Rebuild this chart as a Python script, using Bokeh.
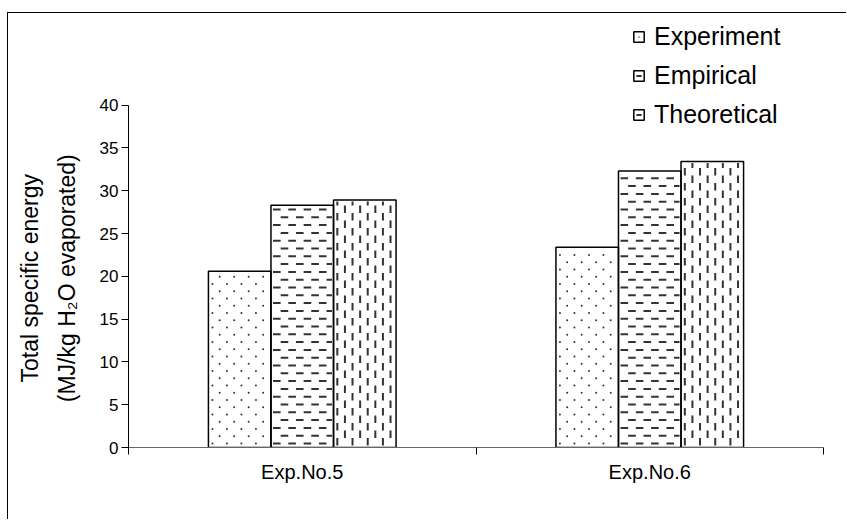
import math
from bokeh.plotting import figure
from bokeh.models import (ColumnDataSource, Range1d, FixedTicker, SingleIntervalTicker,
                          Legend, LegendItem)
from bokeh.embed import file_html
from bokeh.resources import INLINE

# Data
categories = ["Exp.No.5", "Exp.No.6"]
series = ["Experiment", "Empirical", "Theoretical"]
experiment = [20.6, 23.4]
empirical = [28.3, 32.3]
theoretical = [28.9, 33.4]

FONT = "Liberation Sans"
INK = "#333333"

W, H = 839, 507
BL, BR, BT, BB = 120, 24, 6, 73
Y_END = 50
X_END = len(categories)

p = figure(width=W, height=H, margin=(12, 0, 0, 7),
           styles={"border-top": "1.5px solid black", "border-left": "1.5px solid black"},
           x_range=Range1d(0, X_END), y_range=Range1d(0, Y_END),
           output_backend="svg", toolbar_location=None,
           min_border_left=BL, min_border_right=BR, min_border_top=BT, min_border_bottom=BB)
p.outline_line_color = None
p.xgrid.visible = False
p.ygrid.visible = False
p.background_fill_color = "white"
p.border_fill_color = "white"

# pixels per data unit inside the frame, used to size the fill patterns
PX_X = (W - BL - BR) / X_END
PX_Y = (H - BT - BB) / Y_END

centers = [i + 0.5 for i in range(len(categories))]
bar_w = 0.18
offsets = [-bar_w, 0.0, bar_w]
values = [experiment, empirical, theoretical]


def dot_pattern(left, right, top):
    w, h = (right - left) * PX_X, top * PX_Y
    xs, ys = [], []
    r, y = 0, 4.0
    while y < h - 2:
        x = 4.0 + (r % 2) * 7.25
        while x < w - 2:
            xs.append(left + x / PX_X)
            ys.append(y / PX_Y)
            x += 14.5
        r += 1
        y += 7.25
    return xs, ys


def dash_runs(extent, start, period, length, lo, hi_pad):
    """Dash intervals along one line of a pattern, clipped to [lo, extent - hi_pad]."""
    runs = []
    t = start - period
    while t < extent:
        a, b = max(t, lo), min(t + length, extent - hi_pad)
        if b - a > 1.5:
            runs.append((a, b, (b - a) >= length - 0.01))
        t += period
    return runs


def hdash_pattern(left, right, top):
    w, h = (right - left) * PX_X, top * PX_Y
    period, length, gap = 15.3, 7.7, 7.8
    full, part = ([], []), ([], [], [])
    r, y = 0, 4.0
    while y < h - 2:
        for a, b, whole in dash_runs(w, 2.0 + (r % 2) * period / 2, period, length, 1.5, 1.5):
            if whole:
                full[0].append(left + (a + b) / 2 / PX_X)
                full[1].append(y / PX_Y)
            else:
                part[0].append(left + a / PX_X)
                part[1].append(left + b / PX_X)
                part[2].append(y / PX_Y)
        r += 1
        y += gap
    return full, (part[0], part[2], part[1], part[2])


def vdash_pattern(left, right, top):
    w, h = (right - left) * PX_X, top * PX_Y
    period, length, gap = 15.0, 7.5, 7.6
    full, part = ([], []), ([], [], [])
    c, x = 0, 3.8
    while x < w - 1.5:
        for a, b, whole in dash_runs(h, 2.0 + (c % 2) * period / 2, period, length, 1.0, 1.5):
            if whole:
                full[0].append(left + x / PX_X)
                full[1].append((a + b) / 2 / PX_Y)
            else:
                part[0].append(left + x / PX_X)
                part[1].append(a / PX_Y)
                part[2].append(b / PX_Y)
        c += 1
        x += gap
    return full, (part[0], part[1], part[0], part[2])


bar_sides = []
for k in range(len(series)):
    xs = [c + offsets[k] for c in centers]
    p.vbar(x=xs, top=values[k], width=bar_w, bottom=0, fill_color="white", line_color=None)
    bar_sides.append([(x - bar_w / 2, x + bar_w / 2, t) for x, t in zip(xs, values[k])])

# fill patterns
dx, dy = [], []
for left, right, top in bar_sides[0]:
    a, b = dot_pattern(left, right, top)
    dx += a
    dy += b
dots = p.scatter(dx, dy, marker="dot", size=8, fill_color=INK, line_color=INK, line_width=0.5)

marks = [dots]
for k, fn, ang in ((1, hdash_pattern, 0.0), (2, vdash_pattern, math.pi / 2)):
    fx, fy, s0, s1, s2, s3 = [], [], [], [], [], []
    for left, right, top in bar_sides[k]:
        (a, b), (c, d, e, f) = fn(left, right, top)
        fx += a
        fy += b
        s0 += c
        s1 += d
        s2 += e
        s3 += f
    m = p.scatter(fx, fy, marker="dash", size=7.6, angle=ang, line_color=INK, line_width=2)
    p.segment(s0, s1, s2, s3, line_color=INK, line_width=2, line_cap="butt")
    marks.append(m)

# bar outlines on top of the patterns
outlines = []
for k in range(len(series)):
    outlines.append(p.vbar(x=[c + offsets[k] for c in centers], top=values[k], width=bar_w, bottom=0,
                           fill_color=None, line_color="black", line_width=1.5))

# y axis (drawn from 0 to 40 only)
NB = "\u00a0" * 14
yax = p.yaxis[0]
yax.bounds = (0, 40)
yax.ticker = SingleIntervalTicker(interval=5)
yax.minor_tick_line_color = None
yax.major_tick_in = 0
yax.major_tick_out = 7
yax.major_tick_line_color = "black"
yax.axis_line_color = "black"
yax.major_label_text_font = FONT
yax.major_label_text_font_size = "17px"
yax.major_label_text_color = "black"
yax.major_label_standoff = 3
yax.axis_label = "Total specific energy" + NB + "\n(MJ/kg H\u2082O evaporated)" + NB
yax.axis_label_text_font = FONT
yax.axis_label_text_font_size = "23px"
yax.axis_label_text_font_style = "normal"
yax.axis_label_text_color = "black"
yax.axis_label_standoff = 17
yax.axis_label_text_line_height = 1.4

# x axis: labels at category centres, separators at category boundaries
xax = p.xaxis[0]
xax.ticker = FixedTicker(ticks=centers, minor_ticks=list(range(len(categories) + 1)))
xax.major_label_overrides = {c: lab for c, lab in zip(centers, categories)}
xax.major_tick_line_color = None
xax.major_tick_in = 0
xax.major_tick_out = 0
xax.minor_tick_in = 0
xax.minor_tick_out = 7
xax.minor_tick_line_color = "black"
xax.axis_line_color = "#666666"
xax.major_label_text_font = FONT
xax.major_label_text_font_size = "20px"
xax.major_label_text_color = "black"
xax.major_label_standoff = 6

legend = Legend(items=[LegendItem(label=name, renderers=[marks[i], outlines[i]])
                       for i, name in enumerate(series)],
                location=(504, 318), orientation="vertical",
                glyph_width=13, glyph_height=13, label_height=13,
                label_standoff=9, spacing=10, padding=0, margin=0,
                border_line_color=None, background_fill_alpha=0,
                label_text_font=FONT, label_text_font_size="25px", label_text_color="black")
p.add_layout(legend, "center")

open("out.html", "w").write(file_html(p, INLINE))
